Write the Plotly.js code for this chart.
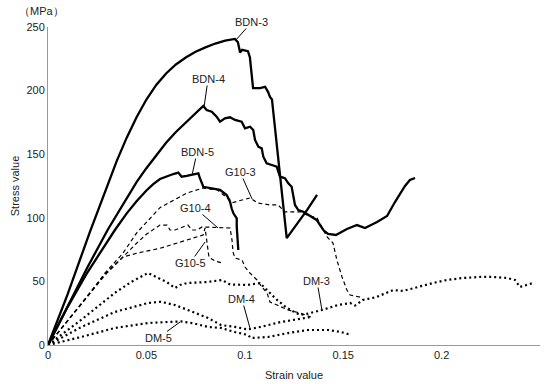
<!DOCTYPE html>
<html><head><meta charset="utf-8">
<script src="https://cdn.plot.ly/plotly-3.0.1.min.js"></script>
<style>html,body{margin:0;padding:0;background:#fff}#chart{width:550px;height:384px}</style>
</head><body><div id="chart"></div>
<script>
// Strain (x) and stress in MPa (y) for each specimen
const bdn3Strain = [0, 0.01, 0.0213, 0.03, 0.035, 0.04, 0.045, 0.05, 0.055, 0.06, 0.065, 0.07, 0.075, 0.08, 0.085, 0.09, 0.095, 0.0965, 0.0976, 0.0986, 0.1016, 0.1026, 0.1042, 0.1077, 0.1103, 0.1118, 0.1128, 0.1138, 0.1179, 0.1213, 0.1316, 0.1367];
const bdn3Stress = [0, 40, 89, 125, 145, 163, 179, 193, 204.5, 213.5, 220.5, 226, 230.5, 234, 237, 239.2, 240.6, 238, 230, 232, 231, 226, 202, 202, 203, 199, 195, 193, 132, 84, 106, 118];

const bdn4Strain = [0, 0.01, 0.02, 0.0305, 0.04, 0.045, 0.05, 0.055, 0.06, 0.065, 0.07, 0.075, 0.0789, 0.0806, 0.0832, 0.0857, 0.0874, 0.0899, 0.0925, 0.095, 0.0984, 0.1001, 0.1027, 0.1043, 0.1052, 0.1069, 0.1086, 0.1094, 0.1111, 0.1137, 0.1162, 0.1179, 0.1204, 0.1221, 0.1238, 0.1255, 0.1272, 0.1297, 0.1323, 0.1365, 0.1399, 0.1423, 0.1463, 0.1519, 0.157, 0.1611, 0.1672, 0.1723, 0.1763, 0.1814, 0.1839, 0.1865];
const bdn4Stress = [0, 31, 61, 91, 116, 128, 139, 149.5, 159, 167.5, 175, 182, 187.9, 184.7, 183.4, 179.5, 175.6, 178.2, 179, 176.9, 175.6, 170.4, 171.6, 169, 161.2, 155.9, 154.6, 148, 142.8, 141.5, 140.2, 132.3, 131.1, 127.1, 124.4, 110.1, 106.1, 104.8, 102.2, 98.3, 90.4, 87.3, 86.5, 91.2, 94.3, 92, 96.7, 101.4, 112.4, 125, 129.7, 131.3];

const bdn5Strain = [0, 0.01, 0.02, 0.027, 0.034, 0.04, 0.045, 0.05, 0.0535, 0.0569, 0.06, 0.0637, 0.0662, 0.0679, 0.0705, 0.073, 0.0764, 0.0772, 0.0789, 0.0832, 0.0874, 0.0908, 0.0925, 0.0933, 0.0942, 0.0959, 0.0959, 0.0967];
const bdn5Stress = [0, 30, 57, 74, 90.4, 103.5, 113, 121.5, 126.5, 130.5, 132.5, 134.4, 135.5, 132.3, 132.9, 133.6, 135, 131.1, 124.4, 123.2, 121.9, 117.9, 112.7, 107.5, 103.5, 99.6, 93, 74.7];

const g103Strain = [0, 0.0102, 0.0198, 0.029, 0.038, 0.045, 0.0569, 0.0706, 0.0788, 0.086, 0.094, 0.0986, 0.1026, 0.1067, 0.1128, 0.1169, 0.1204, 0.1291, 0.1316, 0.1367, 0.1397, 0.1418, 0.1448, 0.1468, 0.1494, 0.1519, 0.1535, 0.1585, 0.1601];
const g103Stress = [0, 19.7, 37.7, 56.6, 72, 88, 108, 119.5, 123.4, 122, 112, 114, 115.6, 111.6, 110.1, 110.1, 104.6, 104.6, 102.2, 99.8, 90.4, 84.9, 80.2, 66.8, 53.5, 43.2, 39.3, 37.7, 35.4];

const g104Strain = [0, 0.0102, 0.0198, 0.029, 0.038, 0.045, 0.05, 0.0569, 0.0605, 0.062, 0.0645, 0.0686, 0.0711, 0.0732, 0.0757, 0.0783, 0.0874, 0.0925, 0.0935, 0.094, 0.095, 0.0986, 0.1001, 0.1026, 0.1062, 0.1087, 0.1113, 0.1128, 0.1164, 0.122, 0.128, 0.1336];
const g104Stress = [0, 19.5, 37, 55, 69, 80, 87, 94.3, 94.3, 90.4, 90.4, 92.8, 94.3, 90.4, 90.4, 92.8, 92, 92, 82.5, 73.1, 68.4, 66.8, 61.3, 56.6, 51.1, 45.6, 40.9, 33.8, 31.4, 27.5, 25.2, 22];

const g105Strain = [0, 0.0102, 0.0198, 0.029, 0.0381, 0.046, 0.0569, 0.0706, 0.0788, 0.0798, 0.0808, 0.0818, 0.085, 0.0884];
const g105Stress = [0, 19.7, 37.5, 56, 69.2, 72.5, 76, 82.5, 86.5, 92, 80, 69, 66, 64.5];

const dm3Strain = [0, 0.0168, 0.034, 0.0422, 0.0508, 0.0553, 0.0603, 0.0645, 0.0671, 0.0706, 0.0808, 0.0884, 0.0925, 0.1011, 0.1077, 0.1113, 0.1164, 0.1214, 0.128, 0.1316, 0.1392, 0.1473, 0.1535, 0.156, 0.16, 0.167, 0.1753, 0.1804, 0.1875, 0.1956, 0.2027, 0.2109, 0.2195, 0.2261, 0.2332, 0.2373, 0.2398, 0.2434, 0.2464];
const dm3Stress = [0, 19.7, 41, 49.5, 56.6, 53.5, 49.5, 44.8, 47.2, 48.7, 49.5, 51.1, 47.6, 47.2, 48.7, 43.2, 35.4, 29.1, 23.6, 24.5, 27.5, 31.4, 33, 31, 35.4, 37.7, 43.2, 42.5, 45.6, 48.7, 51.1, 52.7, 53.5, 53.5, 52.7, 51.1, 45.6, 47.2, 48.7];

const dm4Strain = [0, 0.0168, 0.034, 0.0508, 0.0574, 0.0645, 0.0711, 0.0813, 0.0879, 0.095, 0.1016, 0.108, 0.118, 0.1285, 0.1336];
const dm4Stress = [0, 14, 26, 33, 34, 31.4, 27.5, 21.2, 15.7, 14.2, 12.2, 14.2, 18, 21, 22];

const dm5Strain = [0, 0.0168, 0.034, 0.0508, 0.061, 0.0676, 0.074, 0.0813, 0.0879, 0.095, 0.1016, 0.1031, 0.1118, 0.122, 0.1321, 0.1423, 0.1489, 0.154];
const dm5Stress = [0, 6.3, 13.4, 17.3, 18.1, 18.5, 17, 14.2, 13.4, 10.2, 7.9, 5.5, 6.3, 9.4, 11.8, 11.8, 10.2, 7.9];

const xTicks = [0, 0.05, 0.1, 0.15, 0.2, 0.25];
const xTickText = ['0', '0.05', '0.1', '0.15', '0.2', '0.25'];
const yTicks = [0, 50, 100, 150, 200, 250];

const solid = {color: '#000', width: 2.3, dash: 'solid'};
const dashed = {color: '#000', width: 1.2, dash: '4px,3px'};
const dotted = {color: '#000', width: 2.2, dash: '2px,3px'};

function tr(x, y, line, name) {
  return {x: x, y: y, mode: 'lines', line: line, name: name, showlegend: false, hoverinfo: 'skip'};
}
const data = [
  tr(dm3Strain, dm3Stress, dotted, 'DM-3'),
  tr(dm4Strain, dm4Stress, dotted, 'DM-4'),
  tr(dm5Strain, dm5Stress, dotted, 'DM-5'),
  tr(g103Strain, g103Stress, dashed, 'G10-3'),
  tr(g104Strain, g104Stress, dashed, 'G10-4'),
  tr(g105Strain, g105Stress, dashed, 'G10-5'),
  tr(bdn3Strain, bdn3Stress, solid, 'BDN-3'),
  tr(bdn4Strain, bdn4Stress, solid, 'BDN-4'),
  tr(bdn5Strain, bdn5Stress, solid, 'BDN-5')
];

const fnt = {family: 'Liberation Sans, Arial, sans-serif', size: 11, color: '#222'};
function lab(text, x, y, ax, ay) {
  return {text: text, x: x, y: y, xref: 'x', yref: 'y', ax: ax, ay: ay, showarrow: true,
    arrowhead: 0, arrowwidth: 1, arrowcolor: '#000', standoff: 0, startstandoff: 0, borderpad: 0, font: fnt};
}
const layout = {
  width: 550, height: 384,
  margin: {l: 48, r: 10, t: 27, b: 39},
  paper_bgcolor: '#fff', plot_bgcolor: '#fff',
  font: fnt,
  xaxis: {range: [0, 0.25], tickvals: xTicks, ticktext: xTickText, showgrid: false, zeroline: false,
    showline: true, linecolor: '#999', linewidth: 1, ticks: '', ticklen: 0, tickfont: fnt,
    title: {text: 'Strain value', font: fnt, standoff: 11}},
  yaxis: {range: [0, 250], tickvals: yTicks, showgrid: false, zeroline: false,
    showline: true, linecolor: '#999', linewidth: 1, ticks: '', tickfont: fnt,
    title: {text: 'Stress value', font: fnt, standoff: 4}},
  annotations: [
    {text: '（MPa）', xref: 'paper', yref: 'paper', x: -0.063, y: 1.05, xanchor: 'left', yanchor: 'middle', showarrow: false, font: fnt},
    lab('BDN-3', 0.0955, 239.8, 16, -18),
    lab('BDN-4', 0.0793, 187.1, 4, -28),
    lab('BDN-5', 0.0732, 133.6, 5, -23),
    lab('G10-3', 0.1037, 114.8, -12, -27),
    lab('G10-4', 0.0864, 92.0, -23, -20),
    lab('G10-5', 0.0798, 81.0, -15, 21),
    lab('DM-3', 0.1392, 27.5, -5, -29),
    lab('DM-4', 0.1026, 13.4, -8, -29),
    lab('DM-5', 0.0671, 18.1, -22, 16)
  ]
};
Plotly.newPlot('chart', data, layout, {staticPlot: true, displayModeBar: false});
</script>
</body></html>
